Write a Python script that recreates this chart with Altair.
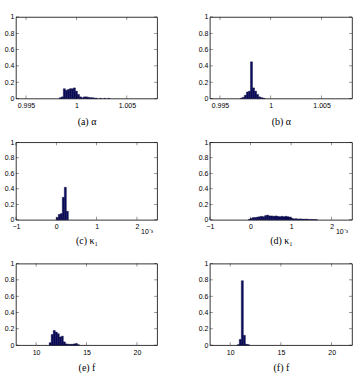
import altair as alt
import pandas as pd

# ---------------- data ----------------
# (a) alpha
a_centers = [0.9984, 0.9986, 0.9988, 0.9990, 0.9992, 0.9994, 0.9996, 0.9998, 1.0000,
             1.0002, 1.0004, 1.0006, 1.0008, 1.0010, 1.0012, 1.0014, 1.0016, 1.0018,
             1.0020, 1.0024, 1.0028, 1.0032]
a_values = [0.01, 0.02, 0.12, 0.10, 0.11, 0.12, 0.12, 0.13, 0.09,
            0.05, 0.02, 0.01, 0.02, 0.02, 0.015, 0.01, 0.01, 0.005,
            0.003, 0.002, 0.002, 0.002]
# (b) alpha
b_centers = [0.9971, 0.9973, 0.9975, 0.9977, 0.9979, 0.9981, 0.9983, 0.9985, 0.9987,
             0.9989, 0.9991, 0.9993]
b_values = [0.005, 0.015, 0.04, 0.08, 0.09, 0.45, 0.13, 0.09, 0.05, 0.02, 0.01, 0.005]
# (c) kappa_1 (x 10^-3)
c_centers = [0.025, 0.075, 0.125, 0.175, 0.225, 0.275]
c_values = [0.03, 0.07, 0.08, 0.29, 0.42, 0.11]
# (d) kappa_1 (x 10^-3)
d_centers = [-0.025, 0.025, 0.075, 0.125, 0.175, 0.225, 0.275, 0.325, 0.375, 0.425,
             0.475, 0.525, 0.575, 0.625, 0.675, 0.725, 0.775, 0.825, 0.875, 0.925,
             0.975, 1.025, 1.075, 1.125, 1.175, 1.225, 1.275, 1.325, 1.375, 1.425,
             1.475, 1.525, 1.575, 1.625]
d_values = [0.008, 0.02, 0.03, 0.03, 0.035, 0.04, 0.045, 0.04, 0.055, 0.06,
            0.05, 0.05, 0.045, 0.05, 0.045, 0.04, 0.045, 0.04, 0.045, 0.04,
            0.035, 0.02, 0.012, 0.015, 0.01, 0.012, 0.01, 0.008, 0.01, 0.006,
            0.005, 0.004, 0.003, 0.002]
# (e) f
e_centers = [11.4, 11.6, 11.8, 12.0, 12.2, 12.4, 12.6, 12.8, 13.0, 13.2, 13.4, 13.6,
             13.8, 14.0, 14.2]
e_values = [0.03, 0.13, 0.18, 0.16, 0.14, 0.10, 0.11, 0.04, 0.015, 0.01, 0.01, 0.01,
            0.015, 0.02, 0.005]
# (f) f
f_centers = [10.8, 11.0, 11.2, 11.4, 11.6, 11.8]
f_values = [0.005, 0.07, 0.79, 0.12, 0.01, 0.005]

alpha_ticks = [0.995, 1.0, 1.005]
kappa_ticks = [-1, 0, 1, 2]
f_ticks = [10, 15, 20]
y_ticks = [0, 0.2, 0.4, 0.6, 0.8, 1]

captions = ["(a) α", "(b) α", "(c) κ₁", "(d) κ₁", "(e) f", "(f) f"]

BAR = "#0b0b62"
LABEL_FONT = "Liberation Sans"
CAP_FONT = "Liberation Serif"


def panel(centers, values, binw, domain, xticks, caption, w, h, exponent=False, cap_pad=8):
    df = pd.DataFrame({
        "lo": [c - binw / 2 for c in centers],
        "hi": [c + binw / 2 for c in centers],
        "v": values,
    })
    xs = alt.Scale(domain=domain, nice=False, zero=False)
    ys = alt.Scale(domain=[0, 1], nice=False)
    xa = alt.Axis(values=xticks, format="~g", title=caption, tickSize=0,
                  labelPadding=3, titlePadding=cap_pad, grid=False, domain=False,
                  labelOverlap=False, labelFlush=False)
    ya = alt.Axis(values=y_ticks, format="~g", title=None, tickSize=0,
                  labelPadding=2, grid=False, domain=False,
                  labelOverlap=False, labelFlush=False)
    bars = alt.Chart(df).mark_rect(color=BAR, stroke="#000030", strokeWidth=0.4).encode(
        x=alt.X("lo:Q", scale=xs, axis=xa),
        x2="hi:Q",
        y=alt.Y("v:Q", scale=ys, axis=ya),
        y2=alt.Y2(datum=0),
    )
    xt = pd.DataFrame({"t": xticks})
    yt = pd.DataFrame({"t": y_ticks})
    tb = alt.Chart(xt).mark_tick(color="black", thickness=0.6, size=3, orient="vertical").encode(
        x=alt.X("t:Q", scale=xs, axis=xa), y=alt.value(h - 1.5))
    tt = alt.Chart(xt).mark_tick(color="black", thickness=0.6, size=3, orient="vertical").encode(
        x=alt.X("t:Q", scale=xs, axis=xa), y=alt.value(1.5))
    tl = alt.Chart(yt).mark_tick(color="black", thickness=0.6, size=3, orient="horizontal").encode(
        y=alt.Y("t:Q", scale=ys, axis=ya), x=alt.value(1.5))
    tr = alt.Chart(yt).mark_tick(color="black", thickness=0.6, size=3, orient="horizontal").encode(
        y=alt.Y("t:Q", scale=ys, axis=ya), x=alt.value(w - 1.5))
    layers = [bars, tb, tt, tl, tr]
    if exponent:
        ex = alt.Chart(pd.DataFrame({"s": ["10⁻³"]})).mark_text(
            align="right", baseline="middle", fontSize=7, font=LABEL_FONT, color="black"
        ).encode(text="s:N", x=alt.value(w - 4), y=alt.value(h + 12))
        layers.append(ex)
    return alt.layer(*layers).properties(width=w, height=h)


pa = panel(a_centers, a_values, 0.0002, [0.994, 1.008], alpha_ticks, captions[0], 142, 82)
pb = panel(b_centers, b_values, 0.0002, [0.994, 1.008], alpha_ticks, captions[1], 143, 82)
pc = panel(c_centers, c_values, 0.05, [-1, 2.5], kappa_ticks, captions[2], 142, 78,
           exponent=True, cap_pad=6)
pd_ = panel(d_centers, d_values, 0.05, [-1, 2.5], kappa_ticks, captions[3], 143, 78,
            exponent=True, cap_pad=6)
pe = panel(e_centers, e_values, 0.2, [8, 22], f_ticks, captions[4], 142, 82)
pf = panel(f_centers, f_values, 0.2, [8, 22], f_ticks, captions[5], 143, 82)

chart = alt.concat(
    pa, pb, pc, pd_, pe, pf, columns=2,
    spacing={"row": 44, "column": 53}, bounds="flush",
).properties(
    padding={"left": 3, "top": 11, "right": 4, "bottom": 2},
    background="white",
).configure_view(
    stroke="black", strokeWidth=0.8
).configure_axis(
    labelFont=LABEL_FONT, labelFontSize=7, labelColor="black", labelOverlap=False,
    titleFont=CAP_FONT, titleFontSize=10, titleFontWeight="normal", titleColor="black",
)

chart.save("out.html", embed_options={"renderer": "svg", "actions": False})
